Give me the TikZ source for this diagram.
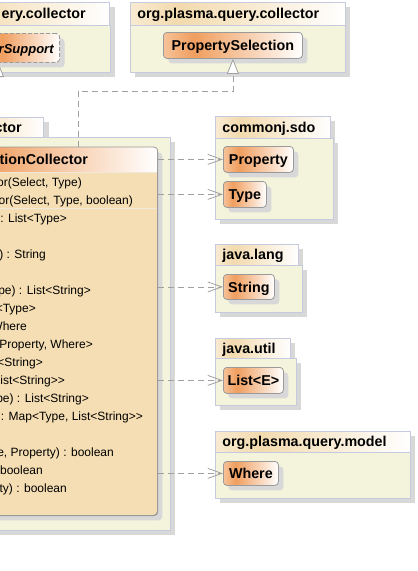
\documentclass[tikz,border=0pt]{standalone}
\usepackage{fontspec}
\setmainfont{Liberation Sans}[Ligatures=TeXOff]
\usetikzlibrary{arrows.meta,shadows}
\definecolor{pkgfill}{HTML}{F4F4DD}
\definecolor{pkgborder}{HTML}{C6CADF}
\definecolor{pkgtab}{HTML}{F3DAAE}
\definecolor{shadowgray}{HTML}{D8D8D8}
\definecolor{clsA}{HTML}{F6C39A}
\definecolor{clsB}{HTML}{F09E5E}
\definecolor{clsborder}{HTML}{9A9A9A}
\definecolor{wheatbody}{HTML}{F5DEB3}
\definecolor{sepcol}{HTML}{EFE9DD}
\definecolor{linegray}{HTML}{A0A0A0}
\pgfdeclarehorizontalshading{clsshade}{100bp}{color(0bp)=(clsA); color(25bp)=(clsA); color(36bp)=(clsB); color(75bp)=(white); color(100bp)=(white)}
\pgfdeclarehorizontalshading{tabshade}{100bp}{color(0bp)=(pkgtab!55!white); color(25bp)=(pkgtab!55!white); color(36bp)=(pkgtab); color(75bp)=(white); color(100bp)=(white)}
\newcommand\bfnt{\fontsize{14.3pt}{16pt}\selectfont\bfseries}
\newcommand\rgfnt{\fontsize{12pt}{14pt}\selectfont}
\begin{document}
\begin{tikzpicture}[x=1pt,y=-1pt,
  pkgtab/.style={draw=pkgborder, line width=0.8pt, shade, shading=tabshade, anchor=north west,
    inner xsep=7pt, inner ysep=0pt, align=left, font=\bfnt, text height=11.5pt, text depth=2pt,
    minimum height=22pt, general shadow={fill=shadowgray, draw=none, shadow xshift=5pt, shadow yshift=-5pt}},
  pkgbody/.style={draw=pkgborder, line width=0.8pt, fill=pkgfill, anchor=north west, inner sep=0pt,
    general shadow={fill=shadowgray, draw=none, shadow xshift=5pt, shadow yshift=-5pt}},
  cls/.style={draw=clsborder, line width=0.8pt, rounded corners=3.5pt, shade, shading=clsshade,
    anchor=north west, inner xsep=4pt, inner ysep=0pt, font=\bfnt, text height=13pt, text depth=2pt,
    minimum height=26pt, general shadow={fill=shadowgray, draw=none, shadow xshift=5pt, shadow yshift=-5pt}},
  mcls/.style={draw=clsborder, line width=0.8pt, rounded corners=4pt, fill=wheatbody, anchor=north west,
    inner sep=0pt, general shadow={fill=shadowgray, draw=none, shadow xshift=5pt, shadow yshift=-5pt}},
  txt/.style={anchor=base east, inner sep=0pt, font=\rgfnt},
  txtb/.style={anchor=base west, inner sep=0pt, font=\bfnt},
  dep/.style={draw=linegray, line width=0.8pt, dash pattern=on 6pt off 4pt, -{Straight Barb[length=14pt,width=10pt]}},
  gen/.style={draw=linegray, line width=0.8pt, dash pattern=on 6pt off 4pt, -{Triangle[fill=white, length=15pt, width=12pt]}}
]
\useasboundingbox (0,0) rectangle (418,571);
\clip (0,0) rectangle (418,571);

% ---------- packages ----------
\node[pkgtab, anchor=north east, text width=140pt, align=right, inner xsep=24pt, minimum height=23pt] (tlTab) at (110,2) {ery.collector};
\node[pkgbody, minimum width=130pt, minimum height=47pt] (tlBody) at (-20,25) {};

\node[pkgtab, text width=201pt, minimum height=23pt] (pcTab) at (130,2) {org.plasma.query.collector};
\node[pkgbody, minimum width=215pt, minimum height=47pt] (pcBody) at (130,25) {};

\node[pkgtab, anchor=north east, text width=60pt, align=right, inner xsep=22pt, minimum height=20pt] (mTab) at (44,117) {ctor};
\node[pkgbody, minimum width=180pt, minimum height=393pt] (mBody) at (-10,137) {};

\node[pkgtab, text width=101pt, minimum height=22pt] (cTab) at (215,116) {commonj.sdo};
\node[pkgbody, minimum width=118pt, minimum height=81pt] (cBody) at (215,138) {};

\node[pkgtab, text width=69pt, minimum height=21pt] (lTab) at (215,244) {java.lang};
\node[pkgbody, minimum width=87pt, minimum height=47pt] (lBody) at (215,265) {};

\node[pkgtab, text width=61pt, minimum height=20pt] (uTab) at (215,338) {java.util};
\node[pkgbody, minimum width=81pt, minimum height=47pt] (uBody) at (215,358) {};

\node[pkgtab, text width=181pt, minimum height=21pt] (mdTab) at (215,431) {org.plasma.query.model};
\node[pkgbody, minimum width=195pt, minimum height=46pt] (mdBody) at (215,452) {};

% ---------- classes ----------
\node[cls, dashed, dash pattern=on 4pt off 2pt, anchor=north east, minimum height=29pt, text width=62pt,
  align=right, inner xsep=6pt, font={\fontsize{13pt}{15pt}\selectfont\bfseries\itshape}] (rs) at (60,33) {rSupport};
\node[cls, minimum width=139pt] (ps) at (163,32) {PropertySelection};
\node[cls, minimum width=70pt] (prop) at (223,146) {Property};
\node[cls, minimum width=43pt] (type) at (223,181) {Type};
\node[cls, minimum width=51pt, minimum height=25pt] (str) at (223,274) {String};
\node[cls, minimum width=60pt] (list) at (223,367) {List<E>};
\node[cls, minimum width=55pt, minimum height=24pt] (where) at (223,461) {Where};

% main class
\node[mcls, minimum width=197pt, minimum height=368pt] (mc) at (-40,147) {};
\begin{scope}
  \clip[rounded corners=4pt] (mc.north west) rectangle (mc.south east);
  \shade[left color=clsB!90!white, right color=white] (0,147) rectangle (157,172);
  \draw[sepcol, line width=1pt] (0,172) -- (157,172);
  \draw[sepcol, line width=1pt] (0,208) -- (157,208);
\end{scope}
\draw[clsborder, line width=0.8pt, rounded corners=4pt] (mc.north west) rectangle (mc.south east);

\node[txtb] (mcTitle) at (-0.5,164.3) {tionCollector};
\node[txt] (l1) at (82,186) {or(Select, Type)};
\node[txt] (l2) at (133,204) {or(Select, Type, boolean)};
\node[txt] (l3) at (67,222) {: List<Type>};
\node[txt] (l5) at (46,258) {) : String};
\node[txt] (l7) at (91,294) {pe) : List<String>};
\node[txt] (l8) at (36,312) {<Type>};
\node[txt] (l9) at (27,330) {Where};
\node[txt] (l10) at (93,348) {Property, Where>};
\node[txt] (l11) at (43,366) {<String>};
\node[txt] (l12) at (65,384) {ist<String>>};
\node[txt] (l13) at (89,402) {pe) : List<String>};
\node[txt] (l14) at (143,420) {: Map<Type, List<String>>};
\node[txt] (l16) at (114,456) {e, Property) : boolean};
\node[txt] (l17) at (43,474) {boolean};
\node[txt] (l18) at (67,492) {ty) : boolean};

% ---------- connectors ----------
\coordinate (gbend) at (78,91);
\coordinate (rsTip) at (-2,62);
\draw[gen] (mc.north -| gbend) -- (gbend) -| (ps.south);
\draw[gen] (mc.north -| rsTip) -- (rsTip);
\draw[dep] (prop.west -| mc.east) -- (prop.west);
\draw[dep] (type.west -| mc.east) -- (type.west);
\draw[dep] (str.west -| mc.east) -- (str.west);
\draw[dep] (list.west -| mc.east) -- (list.west);
\draw[dep] (where.west -| mc.east) -- (where.west);
\end{tikzpicture}
\end{document}
